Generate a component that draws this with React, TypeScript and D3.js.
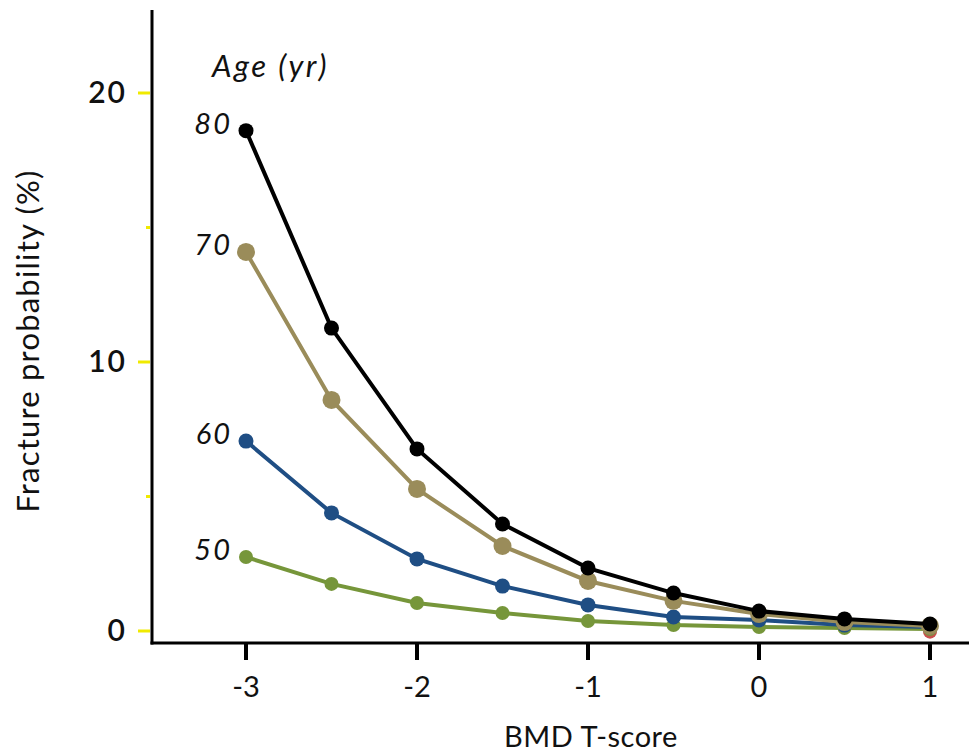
import React from "react";
import * as d3 from "d3";

const tScores = [-3, -2.5, -2, -1.5, -1, -0.5, 0, 0.5, 1];
const age80 = [18.6, 11.26, 6.77, 3.98, 2.34, 1.41, 0.74, 0.45, 0.26];
const age70 = [14.09, 8.59, 5.28, 3.16, 1.86, 1.12, 0.63, 0.33, 0.19];
const age60 = [7.06, 4.39, 2.68, 1.67, 0.97, 0.52, 0.41, 0.22, 0.15];
const age50 = [2.75, 1.75, 1.04, 0.67, 0.37, 0.22, 0.15, 0.11, 0.07];
const hiddenRed = [0.05];
const xTicks = [-3, -2, -1, 0, 1];
const yMajor = [0, 10, 20];
const yMinor = [5, 15];

const series = [
  { name: "50", values: age50, color: "#76963a", r: 7 },
  { name: "60", values: age60, color: "#1f4e84", r: 7.5 },
  { name: "70", values: age70, color: "#9a8c5a", r: 9 },
  { name: "80", values: age80, color: "#000000", r: 7.5 },
];

const FONT = "Lato, 'Open Sans', sans-serif";

export default function App() {
  const W = 969, H = 753;
  const x = d3.scaleLinear().domain([-3, 1]).range([246, 930]);
  const y = d3.scaleLinear().domain([0, 20]).range([631, 93]);
  const line = d3.line<number>().x((_, i) => x(tScores[i])).y((v) => y(v));
  const axisX = 152;
  const axisY = 643;
  return (
    <svg width={W} height={H} style={{ position: "absolute", left: 0, top: 0, background: "#fff" }}>
      {/* axes */}
      <line x1={axisX} y1={10} x2={axisX} y2={axisY + 1.5} stroke="#000" strokeWidth={3} />
      <line x1={axisX - 1.5} y1={axisY} x2={969} y2={axisY} stroke="#000" strokeWidth={3} />
      {yMajor.map((v) => (
        <g key={"ym" + v}>
          <line x1={138} x2={150} y1={y(v)} y2={y(v)} stroke="#f0ea00" strokeWidth={3} />
          <text x={127} y={y(v) + 10} textAnchor="end" fontFamily={FONT} fontSize={30} fontWeight={600} letterSpacing={2} fill="#111">{v}</text>
        </g>
      ))}
      {yMinor.map((v) => (
        <line key={"yn" + v} x1={146} x2={150} y1={y(v)} y2={y(v)} stroke="#f0ea00" strokeWidth={3} />
      ))}
      {xTicks.map((v) => (
        <g key={"x" + v}>
          <line x1={x(v)} x2={x(v)} y1={axisY} y2={660} stroke="#000" strokeWidth={4} />
          <text x={x(v)} y={697} textAnchor="middle" fontFamily={FONT} fontSize={29} fill="#111">{v}</text>
        </g>
      ))}
      <text x={591} y={747} textAnchor="middle" fontFamily={FONT} fontSize={29} letterSpacing={0.5} fill="#111">BMD T-score</text>
      <text transform="translate(39,341) rotate(-90)" textAnchor="middle" fontFamily={FONT} fontSize={31} letterSpacing={1.2} fill="#111">Fracture probability (%)</text>
      <text x={212} y={77} fontFamily={FONT} fontStyle="italic" fontSize={31} letterSpacing={2.5} fill="#111">Age (yr)</text>
      {/* hidden red point */}
      <circle cx={x(1)} cy={y(hiddenRed[0]) + 2} r={7} fill="#c9504d" />
      {series.map((s) => (
        <g key={s.name}>
          <path d={line(s.values) || ""} fill="none" stroke={s.color} strokeWidth={4} />
          {s.values.map((v, i) => (
            <circle key={i} cx={x(tScores[i])} cy={y(v)} r={s.r} fill={s.color} />
          ))}
          <text x={232} y={y(s.values[0]) + 3} textAnchor="end" fontFamily={FONT} fontStyle="italic" fontSize={29} letterSpacing={2} fill="#111">{s.name}</text>
        </g>
      ))}
    </svg>
  );
}
